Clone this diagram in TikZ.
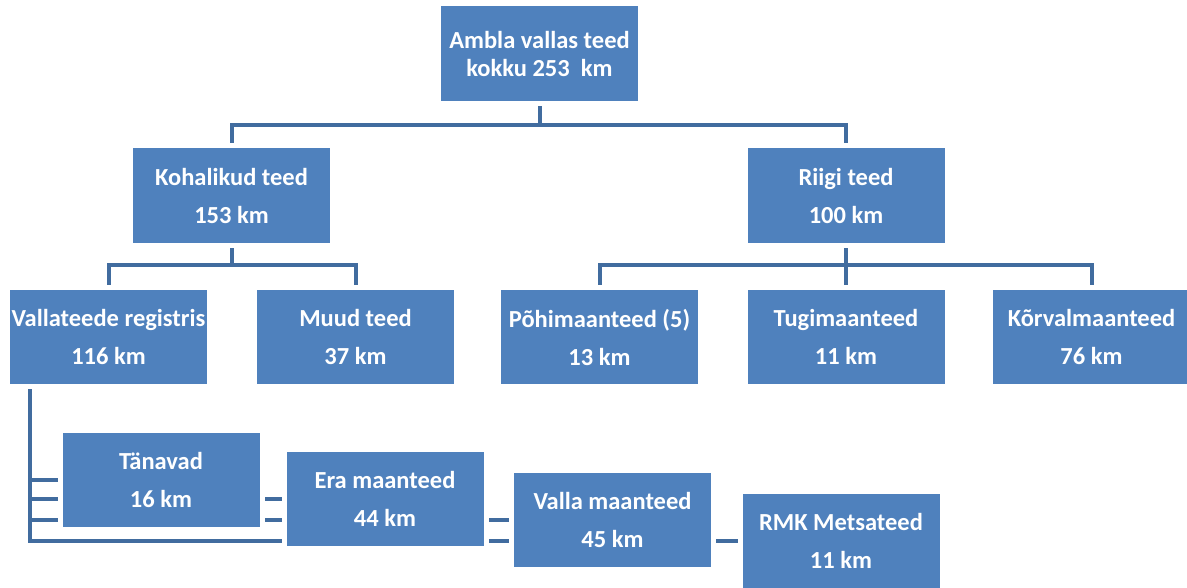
\documentclass[tikz,border=0pt]{standalone}
\usepackage{fontspec}
\setmainfont{Carlito}
\usepackage{xcolor}
\usetikzlibrary{backgrounds}

\definecolor{boxblue}{HTML}{4F81BD}
\definecolor{linkblue}{HTML}{416C9F}

\begin{document}
\begin{tikzpicture}[x=1pt, y=-1pt,
        road/.style={fill=boxblue, preaction={draw=white, line width=10pt}, text=white,
            font=\bfseries\fontsize{24.5}{29}\selectfont, align=center,
            minimum width=197pt, minimum height=94pt, inner sep=0pt},
        link/.style={draw=linkblue, line width=4pt}]

        \useasboundingbox (0,0) rectangle (1187,587);
        \def\gap{9pt}

        % level 1 and 2
        \node[road, minimum height=95pt, font=\bfseries\fontsize{24.5}{28}\selectfont] (total) at (539.5, 53.5) {Ambla vallas teed\\kokku 253\ \ km};
        \node[road, minimum height=95pt] (local) at (231.5, 195.5) {Kohalikud teed\\[\gap]153 km};
        \node[road, minimum height=95pt] (state) at (846, 195.5) {Riigi teed\\[\gap]100 km};

        % level 3
        \node[road] (registry) at (108.5, 337) {Vallateede registris\\[\gap]116 km};
        \node[road] (other) at (355.5, 337) {Muud teed\\[\gap]37 km};
        \node[road] (main) at (599.5, 337) {Põhimaanteed (5)\\[\gap]13 km};
        \node[road] (support) at (846, 337) {Tugimaanteed\\[\gap]11 km};
        \node[road] (side) at (1091.5, 337) {Kõrvalmaanteed\\[\gap]76 km};

        % vallateede registris
        \node[road] (streets) at (161, 480) {Tänavad\\[\gap]16 km};
        \node[road] (private) at (385, 499) {Era maanteed\\[\gap]44 km};
        \node[road] (parish) at (612.5, 520) {Valla maanteed\\[\gap]45 km};
        \node[road] (rmk) at (841, 540.5) {RMK Metsateed\\[\gap]11 km};

        \coordinate (spine) at ([xshift=20pt]registry.south west);

        \begin{scope}[on background layer]
            \draw[link] (total.south) -- ++(0,24) -| (local.north);
            \draw[link] (total.south) ++(0,24) -| (state.north);

            \foreach \leaf in {registry, other}
                \draw[link] (local.south) -- ++(0,22) -| (\leaf.north);
            \foreach \leaf in {main, support, side}
                \draw[link] (state.south) -- ++(0,22) -| (\leaf.north);

            \draw[link] (spine) -- (spine |- rmk.west) -- (rmk.west);
            \foreach \leaf in {streets, private, parish}
                \draw[link] (spine |- \leaf.west) -- (\leaf.west);
        \end{scope}

\end{tikzpicture}
\end{document}
